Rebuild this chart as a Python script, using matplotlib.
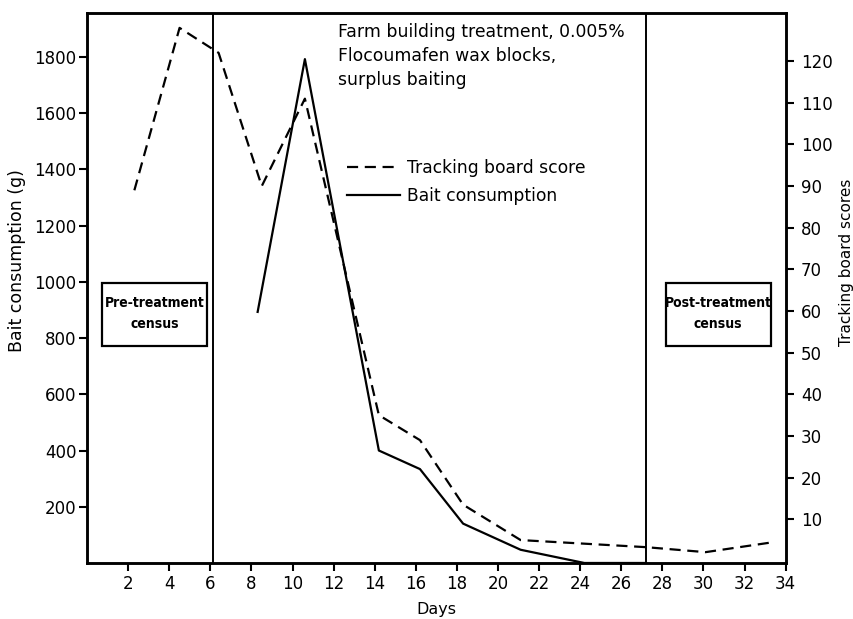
import matplotlib.pyplot as plt
from matplotlib.patches import Rectangle

# tracking board scores (right axis)
track_days = [2.3, 4.5, 6.4, 8.5, 10.6, 14.2, 16.2, 18.3, 21.1, 27.2, 30.1, 33.4]
track_score = [89, 128, 122, 90, 111, 35, 29, 13.5, 5, 3.3, 2.1, 4.5]

# bait consumption in grams (left axis)
bait_days = [8.3, 10.6, 14.2, 16.2, 18.3, 21.1, 24.2, 27.2]
bait_grams = [893, 1792, 400, 334, 140, 47, 0, 0]

# start / end of the treatment period
census_days = [6.15, 27.2]

left_ticks = [200, 400, 600, 800, 1000, 1200, 1400, 1600, 1800]
right_ticks = [10, 20, 30, 40, 50, 60, 70, 80, 90, 100, 110, 120]
day_ticks = list(range(2, 35, 2))

plt.rcParams['font.family'] = 'DejaVu Sans'

fig = plt.figure(figsize=(8.54, 6.19), dpi=100)
ax = fig.add_axes([0.102, 0.0905, 0.818, 0.888])
ax2 = ax.twinx()

ln_bait, = ax.plot(bait_days, bait_grams, color='black', lw=1.6)
ln_track, = ax2.plot(track_days, track_score, color='black', lw=1.6,
                     dashes=(5, 3))

for d in census_days:
    ax.axvline(d, color='black', lw=1.4)

ax.set_xlim(0, 34)
ax.set_ylim(0, 1955)
ax2.set_ylim(-0.5, 131.5)

ax.set_xticks(day_ticks)
ax.set_yticks(left_ticks)
ax2.set_yticks(right_ticks)
ax.tick_params(axis='x', direction='out', length=6, width=1.5,
               labelsize=12, pad=3)
ax.tick_params(axis='y', direction='out', length=6, width=1.5,
               labelsize=12, pad=1.5)
ax2.tick_params(axis='y', direction='out', length=6, width=1.5,
                labelsize=12, pad=5)

for a in (ax, ax2):
    for s in a.spines.values():
        s.set_linewidth(1.8)

ax.set_xlabel('Days', fontsize=11.5, labelpad=6)
ax.set_ylabel('Bait consumption (g)', fontsize=12.5)
ax.yaxis.set_label_coords(-0.087, 0.551)
ax2.set_ylabel('Tracking board scores', fontsize=11)
ax2.yaxis.set_label_coords(1.077, 0.547)

ax.text(0.359, 0.982, 'Farm building treatment, 0.005%\n'
        'Flocoumafen wax blocks,\nsurplus baiting',
        transform=ax.transAxes, ha='left', va='top', fontsize=12.4,
        linespacing=1.42)

ax.legend([ln_track, ln_bait], ['Tracking board score', 'Bait consumption'],
          loc='upper left', bbox_to_anchor=(0.372, 0.735), frameon=False,
          fontsize=12.3, handlelength=3.1, handletextpad=0.4,
          labelspacing=0.6, borderpad=0, borderaxespad=0)

# census boxes
box_font = dict(family='DejaVu Sans', stretch='condensed', weight='bold',
                fontsize=10, ha='center', va='center')
for x0, label in [(0.021, 'Pre-treatment'), (0.828, 'Post-treatment')]:
    ax.add_patch(Rectangle((x0, 0.3945), 0.151, 0.115, transform=ax.transAxes,
                           fill=True, facecolor='white', edgecolor='black',
                           lw=1.6, zorder=3))
    ax.text(x0 + 0.0755, 0.473, label, transform=ax.transAxes, zorder=4,
            **box_font)
    ax.text(x0 + 0.0755, 0.4345, 'census', transform=ax.transAxes, zorder=4,
            **box_font)

fig.savefig('out.png', dpi=100)
